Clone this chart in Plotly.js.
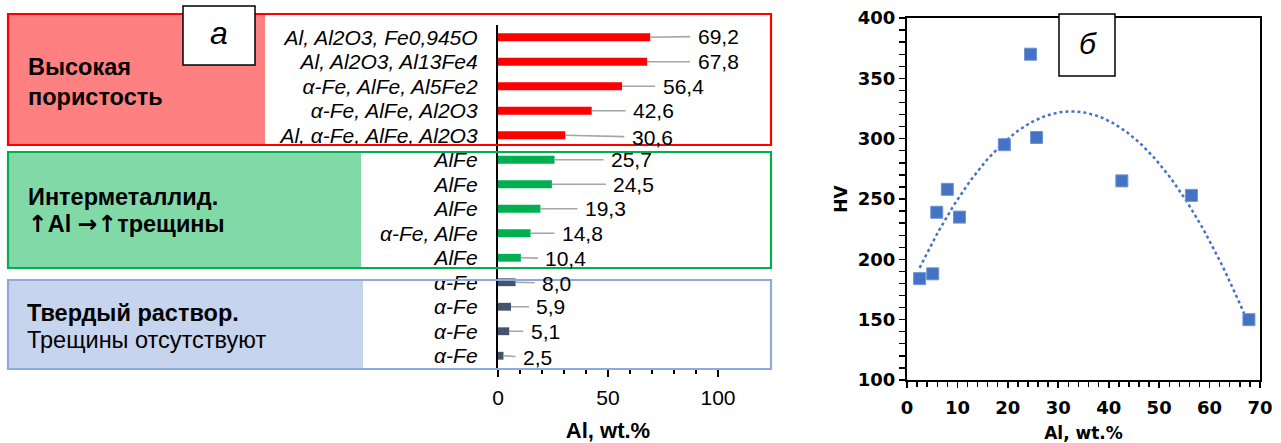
<!DOCTYPE html>
<html>
<head>
<meta charset="utf-8">
<script src="https://cdn.plot.ly/plotly-3.0.1.min.js"></script>
<style>
  html, body { margin: 0; padding: 0; background: #fff; }
  #chart { width: 1281px; height: 443px; }
</style>
</head>
<body>
<div id="chart"></div>
<script>
// ---- Panel а: phase composition and Al content of each coating ----
const phases = [
  'Al, Al2O3, Fe0,945O', 'Al, Al2O3, Al13Fe4', 'α-Fe, AlFe, Al5Fe2', 'α-Fe, AlFe, Al2O3', 'Al, α-Fe, AlFe, Al2O3',
  'AlFe', 'AlFe', 'AlFe', 'α-Fe, AlFe', 'AlFe',
  'α-Fe', 'α-Fe', 'α-Fe', 'α-Fe'
];
const alContent = [69.2, 67.8, 56.4, 42.6, 30.6, 25.7, 24.5, 19.3, 14.8, 10.4, 8.0, 5.9, 5.1, 2.5];
const phaseGroup = ['porous', 'porous', 'porous', 'porous', 'porous',
  'intermetallic', 'intermetallic', 'intermetallic', 'intermetallic', 'intermetallic',
  'solid', 'solid', 'solid', 'solid'];
const barTicks = [0, 50, 100];

// ---- Panel б: Vickers hardness against Al content ----
const hvAl = [2.5, 5.1, 5.9, 8.0, 10.4, 19.3, 24.5, 25.7, 42.6, 56.4, 67.8];
const hvValues = [184, 188, 239, 258, 235, 295, 370, 301, 265, 253, 150];

// ---- styling ----
const groupColor = { porous: '#FF0000', intermetallic: '#00B050', solid: '#44546A' };
// pixel offsets of the value callouts from the bar ends
const calloutDx = [68, 71, 61, 62, 87, 77, 82, 65, 52, 45, 41, 40, 36, 34];
const calloutDy = [-1, 0, 0, 0, 2, 0, 0, 0, 0, 1, 1, 0, 0, 2];

const W = 1281, H = 443;
const px = v => v / W;           // page pixel -> paper x
const py = v => 1 - v / H;       // page pixel -> paper y
const SANS = 'Liberation Sans, Arial, sans-serif';
const DEJ = 'DejaVu Sans, Verdana, sans-serif';

const idx = phases.map((_, i) => i);
const comma = v => v.toFixed(1).replace('.', ',');

// quadratic least-squares trend of hardness vs Al
function quadFit(xs, ys) {
  const S = k => xs.reduce((a, x) => a + Math.pow(x, k), 0);
  const T = k => xs.reduce((a, x, i) => a + Math.pow(x, k) * ys[i], 0);
  const A = [[S(0), S(1), S(2)], [S(1), S(2), S(3)], [S(2), S(3), S(4)]];
  const b = [T(0), T(1), T(2)];
  const det = m => m[0][0]*(m[1][1]*m[2][2]-m[1][2]*m[2][1]) - m[0][1]*(m[1][0]*m[2][2]-m[1][2]*m[2][0]) + m[0][2]*(m[1][0]*m[2][1]-m[1][1]*m[2][0]);
  const D = det(A);
  const coef = [0, 1, 2].map(c => det(A.map((row, r) => row.map((v, j) => j === c ? b[r] : v))) / D);
  return x => coef[0] + coef[1] * x + coef[2] * x * x;
}
const trend = quadFit(hvAl, hvValues);
const xMin = Math.min(...hvAl), xMax = Math.max(...hvAl);
const trendX = [], trendY = [];
for (let i = 0; i <= 120; i++) {
  const x = xMin + (xMax - xMin) * i / 120;
  trendX.push(x); trendY.push(trend(x));
}

const traces = [
  {
    type: 'bar', orientation: 'h',
    x: alContent, y: idx, width: 0.32,
    marker: { color: phaseGroup.map(g => groupColor[g]) },
    xaxis: 'x', yaxis: 'y', hoverinfo: 'x', showlegend: false
  },
  {
    type: 'scatter', mode: 'lines',
    x: trendX, y: trendY,
    line: { color: '#4472C4', width: 2.5, dash: 'dot' },
    xaxis: 'x2', yaxis: 'y2', hoverinfo: 'skip', showlegend: false
  },
  {
    type: 'scatter', mode: 'markers',
    x: hvAl, y: hvValues,
    marker: { symbol: 'square', size: 12, color: '#4472C4', line: { color: '#6E93D6', width: 1 } },
    xaxis: 'x2', yaxis: 'y2', showlegend: false
  }
];

const annotations = [];
// value callouts with leader lines
alContent.forEach((v, i) => {
  annotations.push({
    xref: 'x', yref: 'y', x: v, y: i,
    text: comma(v), showarrow: true, arrowhead: 0, arrowwidth: 1.6, arrowcolor: '#A6A6A6',
    standoff: 0, startstandoff: 7, borderpad: 0,
    ax: calloutDx[i], ay: calloutDy[i],
    font: { family: SANS, size: 21, color: '#000' }
  });
});

// panel captions
const ARROW = s => '<span style="font-family:DejaVu Sans">' + s + '</span>';
const caption = (x, y, text, bold) => ({
  xref: 'paper', yref: 'paper', x: px(x), y: py(y), xanchor: 'left', yanchor: 'middle',
  text: bold ? '<b>' + text + '</b>' : text, showarrow: false,
  font: { family: SANS, size: 23.5, color: '#000' }
});
annotations.push(caption(26, 67, 'Высокая', true));
annotations.push(caption(26, 97, 'пористость', true));
annotations.push(caption(26, 197, 'Интерметаллид.', true));
annotations.push(caption(26, 224, ARROW('↑') + 'Al ' + ARROW('→↑') + 'трещины', true));
annotations.push(caption(25, 313, 'Твердый раствор.', true));
annotations.push(caption(25, 340, 'Трещины отсутствуют', false));

// panel letters
annotations.push({ xref: 'paper', yref: 'paper', x: px(219), y: py(33), xanchor: 'center', yanchor: 'middle',
  text: '<i>а</i>', showarrow: false, font: { family: SANS, size: 32, color: '#000' } });
annotations.push({ xref: 'paper', yref: 'paper', x: px(1088), y: py(44), xanchor: 'center', yanchor: 'middle',
  text: '<i>б</i>', showarrow: false, font: { family: SANS, size: 30, color: '#000' } });

const rect = (x0, y0, x1, y1, fill, line, lw, layer) => ({
  type: 'rect', xref: 'paper', yref: 'paper', x0: px(x0), x1: px(x1), y0: py(y1), y1: py(y0),
  fillcolor: fill, line: { color: line, width: lw }, layer: layer
});
const shapes = [
  rect(8, 14, 265, 145, '#FF8080', 'rgba(0,0,0,0)', 0, 'below'),
  rect(8, 152, 361, 268, '#82D9A8', 'rgba(0,0,0,0)', 0, 'below'),
  rect(8, 280, 363, 369, '#C6D4EE', 'rgba(0,0,0,0)', 0, 'below'),
  rect(8, 14, 771, 145, 'rgba(0,0,0,0)', '#FF0000', 2.2, 'above'),
  rect(8, 152, 771, 268, 'rgba(0,0,0,0)', '#00B050', 2.2, 'above'),
  rect(8, 280, 771, 369, 'rgba(0,0,0,0)', '#8EA9DB', 2.2, 'above'),
  rect(183, 6, 255, 65, '#FFFFFF', '#000000', 1.5, 'above'),
  rect(1059, 14, 1115, 76, '#FFFFFF', '#000000', 1.5, 'above')
];

const layout = {
  width: W, height: H,
  margin: { l: 0, r: 0, t: 0, b: 0 },
  paper_bgcolor: '#fff', plot_bgcolor: 'rgba(0,0,0,0)',
  showlegend: false,
  xaxis: {
    domain: [px(498), px(718)], range: [0, 100], anchor: 'y',
    tickvals: barTicks, ticktext: barTicks.map(String),
    ticks: 'outside', ticklen: 7, tickwidth: 1.6, tickcolor: '#000', ticklabelstandoff: 3,
    minor: { dtick: 10, ticks: 'outside', ticklen: 4, tickwidth: 1.4, tickcolor: '#000' },
    showline: true, linecolor: '#000', linewidth: 1.6,
    showgrid: false, zeroline: false,
    tickfont: { family: SANS, size: 21, color: '#000' },
    title: { text: '<b>Al, wt.%</b>', standoff: 19, font: { family: SANS, size: 22, color: '#000' } }
  },
  yaxis: {
    domain: [py(368), py(25)], range: [13.5, -0.5], anchor: 'x',
    tickmode: 'array', tickvals: idx, ticktext: phases,
    ticks: '', ticklabelstandoff: 14,
    showline: true, linecolor: '#000', linewidth: 2.2,
    showgrid: false, zeroline: false,
    tickfont: { family: SANS, size: 21, color: '#000', style: 'italic' }
  },
  xaxis2: {
    domain: [px(907), px(1260)], range: [0, 70], anchor: 'y2',
    dtick: 10, ticks: 'outside', ticklen: 6, tickwidth: 1.6, tickcolor: '#000', ticklabelstandoff: 4,
    minor: { dtick: 2, ticks: 'outside', ticklen: 5, tickwidth: 1.4, tickcolor: '#000' },
    showline: true, mirror: true, linecolor: '#000', linewidth: 2,
    showgrid: false, zeroline: false,
    tickfont: { family: DEJ, size: 18, color: '#000', weight: 'bold' },
    title: { text: '<b>Al, wt.%</b>', standoff: 13, font: { family: DEJ, size: 17, color: '#000' } }
  },
  yaxis2: {
    domain: [py(380), py(18)], range: [100, 400], anchor: 'x2',
    dtick: 50, ticks: 'outside', ticklen: 6, tickwidth: 1.6, tickcolor: '#000',
    minor: { dtick: 10, ticks: 'outside', ticklen: 6, tickwidth: 1.4, tickcolor: '#000' },
    showline: true, mirror: true, linecolor: '#000', linewidth: 2,
    showgrid: false, zeroline: false,
    tickfont: { family: DEJ, size: 18, color: '#000', weight: 'bold' },
    title: { text: '<b>HV</b>', standoff: 6, font: { family: DEJ, size: 17, color: '#000' } }
  },
  shapes: shapes,
  annotations: annotations
};

Plotly.newPlot('chart', traces, layout, { displayModeBar: false, staticPlot: true });
</script>
</body>
</html>
